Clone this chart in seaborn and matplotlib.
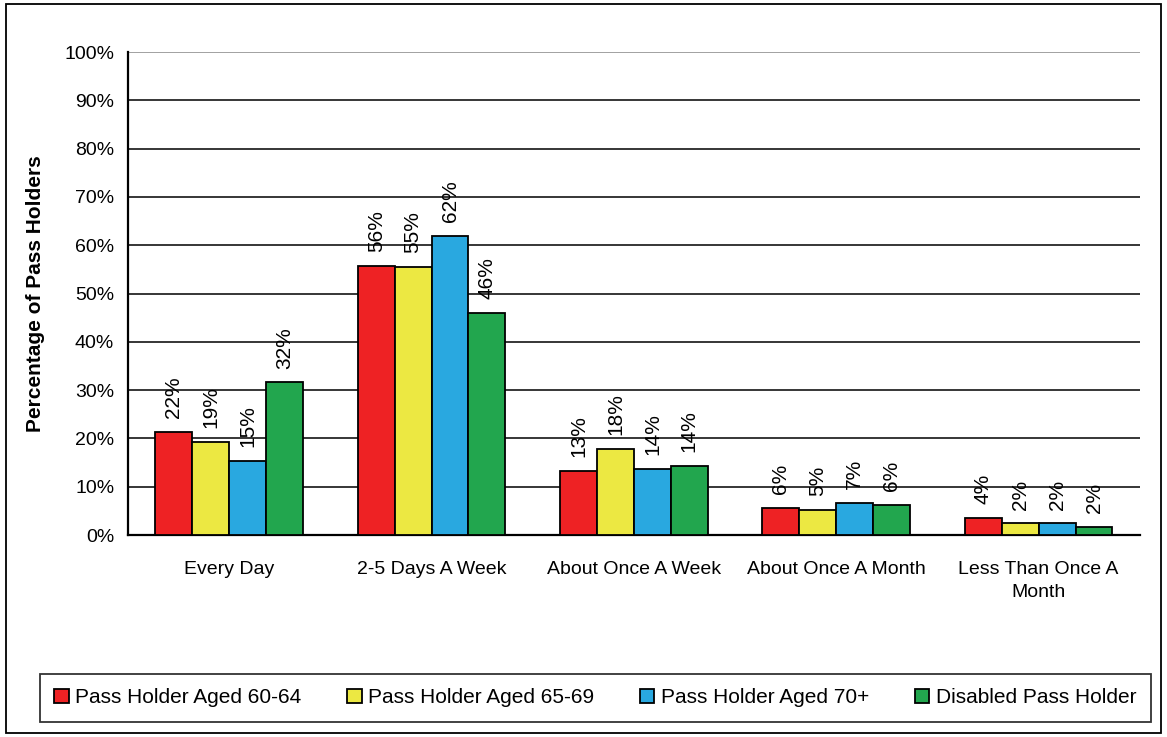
import pandas as pd
import seaborn as sns
import matplotlib.pyplot as plt
from matplotlib.patches import Rectangle
from matplotlib.ticker import FixedLocator, PercentFormatter

# ==============================
# Data
# ==============================
categories = ["Every Day", "2-5 Days A Week", "About Once A Week",
              "About Once A Month", "Less Than Once A\nMonth"]
groups = ["Pass Holder Aged 60-64", "Pass Holder Aged 65-69",
          "Pass Holder Aged 70+", "Disabled Pass Holder"]
aged_60_64 = [21.4, 55.8, 13.3, 5.6, 3.5]
aged_65_69 = [19.3, 55.5, 17.8, 5.2, 2.4]
aged_70_plus = [15.4, 61.9, 13.6, 6.7, 2.4]
disabled = [31.6, 46.0, 14.4, 6.3, 1.7]
labels_60_64 = ["22%", "56%", "13%", "6%", "4%"]
labels_65_69 = ["19%", "55%", "18%", "5%", "2%"]
labels_70_plus = ["15%", "62%", "14%", "7%", "2%"]
labels_disabled = ["32%", "46%", "14%", "6%", "2%"]
colors = ["#EE2224", "#ECE842", "#29A8E0", "#22A64E"]

values = [aged_60_64, aged_65_69, aged_70_plus, disabled]
bar_labels = [labels_60_64, labels_65_69, labels_70_plus, labels_disabled]

rows = []
for g, vals in zip(groups, values):
    for c, v in zip(categories, vals):
        rows.append({"Frequency": c, "Group": g, "Value": v})
df = pd.DataFrame(rows)

# ==============================
# Plot
# ==============================
sns.set_style("white")
plt.rcParams['font.family'] = ['Liberation Sans', 'DejaVu Sans']
plt.rcParams['text.color'] = 'black'
plt.rcParams['xtick.color'] = 'black'
plt.rcParams['ytick.color'] = 'black'
plt.rcParams['axes.labelcolor'] = 'black'

fig = plt.figure(figsize=(11.67, 7.37), dpi=100)
ax = fig.add_axes([0.1097, 0.274, 0.867, 0.6553])

sns.barplot(data=df, x="Frequency", y="Value", hue="Group",
            palette=colors, order=categories, hue_order=groups,
            width=0.73, saturation=1, edgecolor="black", linewidth=1.3,
            errorbar=None, ax=ax, zorder=3)

for cont, labs in zip(ax.containers, bar_labels):
    ax.bar_label(cont, labels=labs, rotation=90, padding=10, fontsize=15)

ax.set_ylim(0, 100)
ax.set_xlim(-0.5, len(categories) - 0.5)
ax.set_yticks(range(0, 101, 10))
ax.yaxis.set_major_formatter(PercentFormatter(decimals=0))
ax.grid(axis="y", color="black", linewidth=1.1, zorder=0)
ax.set_axisbelow(True)
ax.get_ygridlines()[-1].set_color("#888888")

ax.xaxis.set_minor_locator(FixedLocator([i - 0.5 for i in range(len(categories) + 1)]))
ax.tick_params(axis="x", which="major", length=0, pad=19, labelsize=14)
ax.tick_params(axis="x", which="minor", length=6, width=1.3, color="black", direction="out")
ax.tick_params(axis="y", length=6, width=1.3, color="black", direction="out", labelsize=14, pad=4)
for t in ax.get_xticklabels():
    t.set_linespacing(1.45)
    t.set_verticalalignment("top")

for side in ["top", "right"]:
    ax.spines[side].set_visible(False)
for side in ["left", "bottom"]:
    ax.spines[side].set_color("black")
    ax.spines[side].set_linewidth(1.6)

ax.set_xlabel("")
ax.set_ylabel("Percentage of Pass Holders", fontsize=15, fontweight="bold", labelpad=14)

leg = ax.legend(loc="center", bbox_to_anchor=(0.034, 0.018, 0.952, 0.07),
                bbox_transform=fig.transFigure, mode="expand", borderaxespad=0,
                ncol=4, frameon=True, fancybox=False, fontsize=15,
                handlelength=0.7, handleheight=0.7, handletextpad=0.3,
                borderpad=0.7)
leg.get_frame().set_edgecolor("black")
leg.get_frame().set_linewidth(1.3)
leg.get_frame().set_boxstyle("square", pad=0)

fig.patches.append(Rectangle((0.005, 0.006), 0.99, 0.988, transform=fig.transFigure,
                             fill=False, edgecolor="black", linewidth=1.3))

plt.savefig("out.png", dpi=100)
